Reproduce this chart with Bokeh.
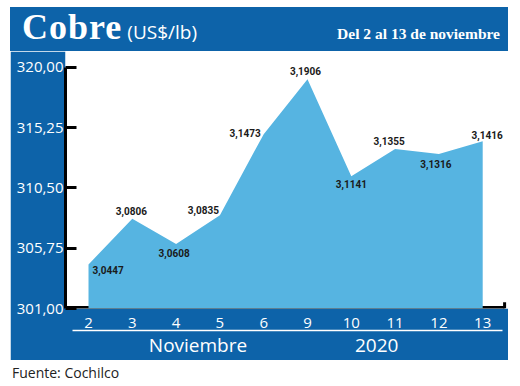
from bokeh.plotting import figure
from bokeh.models import (Range1d, FixedTicker, CustomJSTickFormatter,
                          ColumnDataSource, LinearAxis, Div)
from bokeh.layouts import column
from bokeh.embed import file_html
from bokeh.resources import INLINE
from bokeh.core.properties import value

# ---------------- data ----------------
dias = ["2", "3", "4", "5", "6", "9", "10", "11", "12", "13"]
precio = [3.0447, 3.0806, 3.0608, 3.0835, 3.1473, 3.1906, 3.1141, 3.1355, 3.1316, 3.1416]  # US$/lb
y_ticks = [301.00, 305.75, 310.50, 315.25, 320.00]  # cents
titulo = "Cobre"
unidad = "(US$/lb)"
periodo = "Del 2 al 13 de noviembre"
grupo_pos = [2.5, 6.58]           # centre of the month / year captions on the day axis
grupo_txt = ["Noviembre", "2020"]
fuente = "Fuente: Cochilco"

# ---------------- label placement (styles) ----------------
lab_align = ["left", "center", "center", "right", "right", "center", "center", "center", "center", "right"]
lab_dx = [4, -1, -2, -1, -3, -2, 0, -6, -3, 20]
lab_dy = [6, -8, 9, -5, -1, -8, 8, -8, 10, -6]

DARK = "#0d63a9"
LIGHT = "#56b4e1"

# ---------------- geometry (page px) ----------------
OX, OY = 10, 7                 # top-left of the blue panel
PW = 508 - OX                  # panel width
HEAD = 51 - OY                 # header height
FL, FR, FT, FB = 65, 508, 51, 308   # plot frame in page px
BOT = 360 - FB                 # bottom band height
XU = 43.8
XS = -(88 - FL) / XU
XE = XS + (FR - FL) / XU
YU = 12.7
YS = y_ticks[0]
YE = YS + (FB - FT) / YU


def dx(px):
    return XS + (px - FL) / XU


x = list(range(len(dias)))
cents = [v * 100 for v in precio]
labels = [f"{v:.4f}".replace(".", ",") for v in precio]
src = ColumnDataSource(dict(x=x, y=cents, lbl=labels, align=lab_align, dx=lab_dx, dy=lab_dy))

# ---------------- header ----------------
header = Div(
    text=(
        f'<div style="display:flex;align-items:baseline;width:{PW}px;height:{HEAD}px;'
        f'background:{DARK};color:white;box-sizing:border-box;padding:0 8px 0 12px;">'
        f'<span style="font-family:\'Liberation Serif\';font-weight:bold;font-size:36px;'
        f'line-height:41px;letter-spacing:1px;">{titulo}</span>'
        f'<span style="font-family:\'Open Sans\';font-size:19px;margin-left:5px;">{unidad}</span>'
        f'<span style="margin-left:auto;font-family:\'Liberation Serif\';font-weight:bold;'
        f'font-size:15.5px;">{periodo}</span></div>'
    ),
    width=PW, height=HEAD, margin=0)

# ---------------- chart ----------------
p = figure(width=PW, height=360 - FT, x_range=Range1d(XS, XE), y_range=Range1d(YS, YE),
           output_backend="svg", toolbar_location=None,
           min_border_left=FL - OX, min_border_right=0, min_border_top=0,
           min_border_bottom=BOT, border_fill_color=DARK,
           background_fill_color="white", outline_line_color=None)
p.xgrid.visible = False
p.ygrid.visible = False

# baseline (decorative)
p.segment(x0=[XS], y0=[YS], x1=[len(dias) - 0.5], y1=[YS], line_width=5, line_color="black")
p.segment(x0=[len(dias) - 0.5], y0=[YS], x1=[len(dias) - 0.5], y1=[YS + 0.5],
          line_width=3, line_color="black")

p.varea(x="x", y1=YS, y2="y", source=src, fill_color=LIGHT)

p.text(x="x", y="y", text="lbl", x_offset="dx", y_offset="dy", text_align="align",
       text_baseline="middle", text_font=value("Roboto"),
       text_font_style="bold", text_font_size="10px", text_color="#1a1a1a", source=src)

# y axis
ya = p.yaxis[0]
ya.ticker = FixedTicker(ticks=y_ticks)
ya.formatter = CustomJSTickFormatter(code="return tick.toFixed(2).replace('.', ',');")
ya.bounds = (y_ticks[0], y_ticks[-1])
ya.axis_line_color = "black"
ya.axis_line_width = 3
ya.major_tick_in = 11
ya.major_tick_out = 0
ya.major_tick_line_width = 3
ya.major_tick_line_color = "black"
ya.minor_tick_line_color = None
ya.major_label_text_color = "white"
ya.major_label_text_font = "Open Sans"
ya.major_label_text_font_size = "15px"
ya.major_label_standoff = 2

# x axis (days)
xa = p.xaxis[0]
xa.ticker = FixedTicker(ticks=x)
xa.major_label_overrides = {i: d for i, d in enumerate(dias)}
xa.axis_line_color = None
xa.major_tick_line_color = None
xa.minor_tick_line_color = None
xa.major_tick_in = 0
xa.major_tick_out = 0
xa.minor_tick_in = 0
xa.minor_tick_out = 0
xa.major_label_text_color = "white"
xa.major_label_text_font = "Open Sans"
xa.major_label_text_font_size = "15px"
xa.major_label_standoff = 9

# second x axis: white rule + month / year captions
xa2 = LinearAxis(ticker=FixedTicker(ticks=grupo_pos),
                 major_label_overrides={pos: t for pos, t in zip(grupo_pos, grupo_txt)},
                 bounds=(dx(72), dx(502)),
                 axis_line_color="white", axis_line_width=1.5,
                 major_tick_line_color=None, minor_tick_line_color=None,
                 major_tick_in=0, major_tick_out=0, minor_tick_in=0, minor_tick_out=0,
                 major_label_text_color="white", major_label_text_font="Open Sans",
                 major_label_text_font_size="19px", major_label_standoff=1)
p.add_layout(xa2, "below")

# ---------------- footer ----------------
footer = Div(text=fuente, width=PW, height=22, margin=0,
             styles={"font-family": "Open Sans", "font-size": "14px", "color": "#222222",
                     "padding-left": "2px", "padding-top": "3px", "line-height": "20px"})

layout = column(header, p, footer, spacing=0, margin=(OY, 0, 0, OX))
open("out.html", "w").write(file_html(layout, INLINE))
